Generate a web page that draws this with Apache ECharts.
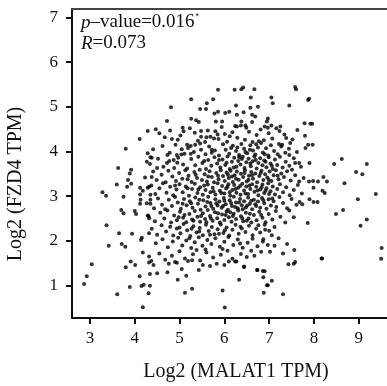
<!DOCTYPE html>
<html>
<head>
<meta charset="utf-8">
<script src="https://cdn.jsdelivr.net/npm/echarts@6/dist/echarts.min.js"></script>
<style>
html,body{margin:0;padding:0;background:#fff;}
#chart{width:387px;height:386px;}
</style>
</head>
<body>
<div id="chart"></div>
<script>
// ---- data (Log2 MALAT1 TPM, Log2 FZD4 TPM) ----
const xTicks = [3, 4, 5, 6, 7, 8, 9];
const yTicks = [1, 2, 3, 4, 5, 6, 7];
const xTitle = 'Log2 (MALAT1 TPM)';
const yTitle = 'Log2 (FZD4 TPM)';
const pValueText = '0.016';
const rText = '0.073';

const leftPoints = [
[4.29,4.46],[4.11,4.28],[3.80,4.06],[4.29,3.96],[4.35,3.87],[4.27,3.77],[3.63,3.63],[3.92,3.59],[3.89,3.51],[4.38,3.43],
[3.85,3.36],[3.60,3.26],[3.92,3.28],[3.83,3.21],[4.12,3.19],[4.29,3.19],[4.32,3.21],[3.28,3.09],[3.36,3.01],[3.75,2.99],
[4.12,3.04],[4.13,2.92],[4.12,2.83],[4.35,3.03],[4.35,2.92],[4.35,2.83],[3.70,2.69],[3.75,2.62],[4.00,2.67],[4.03,2.60],
[4.29,2.57],[4.32,2.51],[3.37,2.35],[3.65,2.17],[3.94,2.16],[4.32,2.17],[4.16,2.07],[4.14,2.02],[3.42,1.89],[3.71,1.93],
[3.79,1.87],[4.18,1.74],[4.32,1.65],[4.32,1.52],[4.37,1.55],[3.04,1.48],[3.91,1.54],[3.80,1.41],[4.01,1.46],[4.34,1.26],
[4.11,1.21],[2.93,1.21],[2.87,1.04],[3.89,0.97],[4.15,0.99],[4.20,1.02],[4.34,1.00],[4.31,0.83],[3.61,0.81],[4.18,0.52]
];

const lowerPoints = [
[5.12,0.84],[5.28,0.93],[5.96,0.89],[6.01,0.51],[6.33,1.13],[6.88,0.84],[7.31,0.81],[6.95,1.01],[7.06,1.11],[6.87,1.19],
[6.74,1.35],[6.90,1.32],[6.44,1.43],[6.27,1.54],[7.43,1.48],[7.55,1.49],[7.58,1.53],[8.17,1.61],[9.50,1.60],
[4.96,1.13],[5.15,1.22],[4.50,1.28],[4.73,1.30],[5.05,1.37],[4.42,1.46],[4.76,1.49],[4.94,1.51],[5.19,1.55],[5.28,1.57],
[5.43,1.35],[5.52,1.46],[5.68,1.44],[5.83,1.49],[6.00,1.46],[6.10,1.54],[6.24,1.54],[6.44,1.42],[6.73,1.35],[6.86,1.33],
[6.97,1.01],[6.67,1.67],[6.82,1.76],[7.02,1.76],[7.31,1.72],[7.56,1.80],[7.12,1.89],[7.40,1.93],[7.21,2.06],[6.97,1.91],
[6.87,2.04],[7.06,2.13],[6.91,2.25]
];

const rightPoints = [
[7.86,2.40],[7.90,2.93],[7.68,2.87],[7.74,2.82],[7.55,2.53],[7.36,2.41],[7.45,2.68],
[7.99,3.19],[8.19,3.12],[8.24,3.07],[7.99,2.87],[8.08,2.87],[8.98,2.93],[9.38,3.05],[8.49,2.60],[8.65,2.69],[9.04,2.34],
[9.18,2.48],[8.18,1.61],[9.51,1.84],
[7.96,4.62],[7.97,4.15],[8.45,3.72],[8.62,3.83],[9.18,3.72],[8.94,3.54],[9.08,3.49],[8.68,3.29],[8.21,3.43],[8.09,3.33],
[8.29,3.33],[7.98,3.34]
];

const upperPoints = [
[7.58,5.44],[7.60,5.39],[6.38,5.39],[6.42,5.43],[6.23,5.38],[6.67,5.39],[6.59,5.21],[7.05,5.21],[7.08,5.08],[7.89,5.18],
[7.87,5.15],[7.45,5.03],[6.26,5.03],[6.58,4.98],[6.75,5.00],[6.43,4.88],[6.28,4.82],[6.62,4.82],[6.69,4.78],[6.97,4.74],
[6.95,4.67],[6.38,4.67],[6.62,4.66],[6.28,4.56],[6.47,4.58],[7.79,4.63],[7.92,4.62],[7.25,4.56],[7.23,4.46],[6.90,4.56],
[6.97,4.53],[7.80,4.35],[7.38,4.30],[7.47,4.19],[7.29,4.15],[7.87,4.15],[7.45,3.92],[7.58,3.74],[7.67,3.74],[7.90,3.74],
[7.51,3.59],[7.67,3.33],[7.89,3.33],
[5.86,5.38],[5.26,5.17],[5.75,5.17],[5.61,5.08],[4.81,4.99],[5.46,4.95],[5.59,4.95],[5.86,4.89],[5.78,4.85],[6.02,4.86],
[6.11,4.89],[4.72,4.68],[5.26,4.73],[5.37,4.70],[5.43,4.66],[5.81,4.67],[5.95,4.67],[4.47,4.50],[4.79,4.47],[5.07,4.53],
[5.09,4.45],[5.48,4.46],[5.34,4.42],[5.80,4.45],[4.67,4.32],[4.96,4.26],[5.48,4.33],[5.60,4.32],[5.69,4.33],[6.01,4.39],
[5.87,4.28],[5.17,4.15],[5.35,4.15],[5.57,4.21],[5.05,4.05],[5.11,3.95],[5.48,4.04],[5.25,3.95],[5.72,4.04],[4.94,3.92],
[4.73,3.92],[4.38,3.86],[4.87,3.81],[4.72,3.74],[4.50,3.63]
];

const corePoints = [
[4.55,4.41],[4.83,4.28],[5.02,4.36],[5.23,4.52],[5.41,4.24],[5.63,4.47],[5.77,4.29],[5.94,4.55],[6.06,4.22],[6.18,4.43],
[6.29,4.31],[6.37,4.58],[6.46,4.26],[6.55,4.44],[6.63,4.21],[6.72,4.37],[6.81,4.49],[6.88,4.25],[6.99,4.41],[7.07,4.29],
[7.16,4.52],[7.34,4.38],[7.52,4.27],[7.63,4.48],[6.12,4.34],[6.49,4.53],[6.77,4.23],[5.85,4.38],[6.24,4.57],[7.05,4.58],
[4.41,4.05],[4.62,4.12],[4.78,3.97],[4.91,4.15],[5.04,3.93],[5.19,4.08],[5.32,3.99],[5.46,4.18],[5.58,3.94],[5.66,4.11],
[5.79,4.02],[5.88,3.91],[5.97,4.16],[6.03,4.04],[6.11,3.95],[6.19,4.13],[6.26,4.01],[6.33,3.92],[6.38,4.17],[6.44,4.06],
[6.51,3.96],[6.58,4.14],[6.64,4.02],[6.69,3.93],[6.75,4.09],[6.82,4.19],[6.86,3.98],[6.93,4.07],[6.98,3.91],[7.04,4.14],
[7.11,4.01],[7.19,3.94],[7.27,4.11],[7.36,3.97],[7.44,4.06],[7.62,3.99],[7.81,4.08],[6.15,4.08],[6.47,3.99],[6.71,4.16],
[5.72,3.97],[5.25,4.12],[6.57,4.04],[6.90,3.94],[7.22,4.17],[6.29,4.09],
[4.34,3.72],[4.52,3.84],[4.64,3.66],[4.77,3.79],[4.88,3.63],[4.97,3.86],[5.08,3.71],[5.17,3.62],[5.26,3.83],[5.35,3.69],
[5.42,3.88],[5.51,3.74],[5.59,3.61],[5.64,3.81],[5.71,3.68],[5.78,3.87],[5.84,3.73],[5.91,3.64],[5.96,3.82],[6.02,3.70],
[6.07,3.89],[6.12,3.61],[6.17,3.77],[6.22,3.86],[6.27,3.66],[6.31,3.79],[6.36,3.71],[6.41,3.88],[6.45,3.63],[6.49,3.76],
[6.54,3.84],[6.59,3.67],[6.63,3.78],[6.67,3.89],[6.72,3.62],[6.76,3.74],[6.80,3.85],[6.85,3.69],[6.89,3.80],[6.94,3.65],
[6.99,3.87],[7.03,3.73],[7.08,3.61],[7.13,3.82],[7.18,3.70],[7.24,3.88],[7.30,3.64],[7.37,3.77],[7.45,3.68],[7.55,3.85],
[7.71,3.66],[6.05,3.75],[6.39,3.83],[6.58,3.73],[6.92,3.77],[5.55,3.79],[6.21,3.64],[6.70,3.81],[7.06,3.68],[4.95,3.75],
[6.33,3.87],[5.88,3.81],
[4.23,3.42],[4.41,3.55],[4.49,3.36],[4.60,3.48],[4.69,3.31],[4.75,3.57],[4.84,3.44],[4.92,3.34],[4.99,3.52],[5.06,3.39],
[5.13,3.58],[5.20,3.46],[5.27,3.32],[5.33,3.54],[5.39,3.41],[5.45,3.59],[5.50,3.36],[5.56,3.49],[5.61,3.33],[5.67,3.56],
[5.72,3.43],[5.77,3.31],[5.82,3.52],[5.87,3.38],[5.92,3.58],[5.97,3.45],[6.01,3.34],[6.05,3.53],[6.10,3.41],[6.14,3.57],
[6.19,3.32],[6.23,3.47],[6.28,3.55],[6.32,3.37],[6.37,3.50],[6.42,3.43],[6.46,3.58],[6.50,3.33],[6.55,3.46],[6.60,3.54],
[6.64,3.39],[6.69,3.51],[6.73,3.31],[6.78,3.45],[6.83,3.57],[6.87,3.36],[6.91,3.49],[6.96,3.42],[7.01,3.55],[7.05,3.34],
[7.10,3.47],[7.15,3.58],[7.21,3.38],[7.27,3.51],[7.33,3.43],[7.40,3.56],[7.48,3.35],[7.58,3.47],[7.77,3.41],[5.36,3.48],
[5.86,3.46],[6.26,3.39],[6.62,3.47],[6.99,3.37],[6.08,3.48],[6.45,3.52],[5.64,3.44],[6.81,3.52],[7.19,3.46],[6.17,3.44],
[5.18,3.38],[6.54,3.37],
[4.18,3.12],[4.37,3.24],[4.46,3.05],[4.55,3.18],[4.63,3.29],[4.71,3.08],[4.79,3.21],[4.86,3.02],[4.93,3.15],[5.00,3.27],
[5.07,3.09],[5.14,3.22],[5.21,3.01],[5.28,3.16],[5.34,3.28],[5.40,3.07],[5.46,3.20],[5.52,3.03],[5.58,3.14],[5.63,3.26],
[5.69,3.09],[5.74,3.19],[5.80,3.04],[5.85,3.29],[5.90,3.12],[5.95,3.23],[6.00,3.06],[6.04,3.17],[6.09,3.27],[6.13,3.01],
[6.18,3.14],[6.22,3.25],[6.27,3.08],[6.31,3.19],[6.36,3.03],[6.40,3.28],[6.44,3.13],[6.49,3.22],[6.53,3.05],[6.58,3.16],
[6.62,3.27],[6.67,3.10],[6.71,3.21],[6.76,3.02],[6.80,3.15],[6.85,3.26],[6.89,3.07],[6.94,3.18],[6.98,3.29],[7.03,3.11],
[7.08,3.22],[7.13,3.04],[7.18,3.16],[7.24,3.27],[7.31,3.09],[7.38,3.20],[7.46,3.02],[7.55,3.14],[7.64,3.25],[7.73,3.06],
[5.55,3.24],[5.93,3.07],[6.25,3.16],[6.56,3.24],[6.92,3.12],[5.18,3.18],[6.07,3.21],[6.47,3.06],[6.74,3.13],[5.76,3.11],
[6.35,3.23],[5.42,3.15],[6.12,3.09],[6.83,3.20],[7.00,3.05],[4.90,3.24],
[4.27,2.84],[4.43,2.73],[4.52,2.95],[4.61,2.81],[4.68,2.71],[4.76,2.92],[4.83,2.78],[4.90,2.98],[4.96,2.86],[5.03,2.72],
[5.10,2.94],[5.16,2.80],[5.23,2.89],[5.29,2.74],[5.35,2.97],[5.41,2.83],[5.47,2.70],[5.53,2.91],[5.58,2.77],[5.64,2.99],
[5.69,2.85],[5.75,2.72],[5.80,2.93],[5.85,2.79],[5.89,2.88],[5.94,2.74],[5.99,2.96],[6.03,2.82],[6.08,2.70],[6.12,2.91],
[6.17,2.78],[6.21,2.99],[6.26,2.86],[6.30,2.73],[6.35,2.94],[6.39,2.80],[6.44,2.89],[6.48,2.75],[6.53,2.97],[6.57,2.83],
[6.62,2.71],[6.66,2.92],[6.71,2.78],[6.75,2.88],[6.80,2.74],[6.84,2.96],[6.89,2.84],[6.94,2.72],[6.99,2.93],[7.04,2.79],
[7.10,2.89],[7.16,2.76],[7.23,2.98],[7.31,2.85],[7.40,2.73],[7.50,2.94],[7.61,2.81],[5.26,2.84],[5.62,2.87],[5.97,2.78],
[6.33,2.86],[6.69,2.82],[7.07,2.95],[5.44,2.92],[5.82,2.84],[6.15,2.85],[6.51,2.79],[6.87,2.91],[5.07,2.83],[6.00,2.90],
[6.41,2.71],[5.71,2.78],[6.24,2.76],[6.60,2.90],
[4.31,2.55],[4.45,2.44],[4.57,2.63],[4.66,2.50],[4.73,2.68],[4.81,2.41],[4.88,2.57],[4.94,2.46],[5.01,2.65],[5.08,2.52],
[5.15,2.42],[5.22,2.60],[5.28,2.48],[5.34,2.67],[5.40,2.54],[5.46,2.43],[5.52,2.62],[5.57,2.49],[5.63,2.69],[5.68,2.56],
[5.74,2.45],[5.79,2.64],[5.84,2.51],[5.90,2.41],[5.95,2.59],[6.00,2.47],[6.05,2.66],[6.10,2.53],[6.16,2.43],[6.21,2.61],
[6.26,2.49],[6.31,2.68],[6.37,2.55],[6.42,2.44],[6.48,2.63],[6.54,2.50],[6.60,2.41],[6.66,2.58],[6.72,2.46],[6.78,2.65],
[6.85,2.52],[6.92,2.42],[6.99,2.60],[7.07,2.48],[7.15,2.67],[7.25,2.54],[5.11,2.58],[5.48,2.56],[5.86,2.62],[6.19,2.56],
[6.57,2.61],[5.31,2.45],[5.70,2.50],[6.03,2.58],[6.40,2.51],[6.82,2.58],[4.98,2.53],[5.60,2.42],[6.13,2.64],[6.50,2.45],
[4.38,2.27],[4.50,2.14],[4.60,2.35],[4.70,2.21],[4.79,2.32],[4.86,2.12],[4.94,2.28],[5.02,2.17],[5.09,2.38],[5.17,2.24],
[5.24,2.11],[5.31,2.33],[5.38,2.19],[5.45,2.29],[5.52,2.13],[5.59,2.36],[5.65,2.22],[5.72,2.31],[5.78,2.15],[5.85,2.26],
[5.92,2.37],[5.98,2.18],[6.05,2.30],[6.11,2.12],[6.18,2.25],[6.25,2.36],[6.32,2.16],[6.39,2.28],[6.47,2.20],[6.55,2.34],
[6.63,2.13],[6.71,2.27],[6.80,2.19],[6.90,2.36],[7.00,2.23],[7.12,2.31],[5.27,2.27],[5.68,2.14],[6.01,2.24],[6.36,2.32],
[6.76,2.35],[5.00,2.30],[5.44,2.21],[5.88,2.16],
[4.47,1.95],[4.62,2.04],[4.74,1.86],[4.85,1.99],[4.97,2.07],[5.06,1.90],[5.15,2.01],[5.26,1.84],[5.34,1.97],[5.43,2.08],
[5.51,1.89],[5.62,2.02],[5.71,1.93],[5.80,2.06],[5.90,1.87],[6.00,1.98],[6.09,2.09],[6.20,1.91],[6.30,2.03],[6.41,1.85],
[6.52,1.96],[6.63,2.05],[6.74,1.88],[6.86,1.99],[5.22,2.06],[5.58,1.81],[5.96,1.82],[6.35,1.94],
[4.55,1.72],[4.68,1.58],[4.83,1.67],[5.00,1.77],[5.12,1.61],[5.30,1.70],[5.46,1.56],[5.60,1.74],[5.75,1.63],[5.92,1.69],
[6.07,1.78],[6.18,1.60],[6.37,1.71],[6.50,1.64],[6.60,1.78],[5.38,1.80],[4.90,1.53]
];

const allPoints = [].concat(leftPoints, lowerPoints, rightPoints, upperPoints, corePoints);

const chart = echarts.init(document.getElementById('chart'), null, {renderer: 'canvas'});
const serif = '"Liberation Serif", "DejaVu Serif", serif';
const axisColor = '#111';

chart.setOption({
  animation: false,
  backgroundColor: '#fff',
  grid: {left: 72, top: 9, right: 0, bottom: 68, show: false},
  xAxis: [{
    type: 'value', min: 2.6, max: 9.63,
    axisLine: {show: true, lineStyle: {color: axisColor, width: 2}},
    axisTick: {show: true, length: 6, inside: false, customValues: xTicks, lineStyle: {color: axisColor, width: 2}},
    axisLabel: {customValues: xTicks, color: '#111', fontFamily: serif, fontSize: 17, margin: 12},
    splitLine: {show: false}
  }, {
    type: 'value', position: 'top', min: 2.6, max: 9.63,
    axisLine: {show: true, onZero: false, lineStyle: {color: '#444', width: 2}},
    axisTick: {show: false}, axisLabel: {show: false}, splitLine: {show: false}
  }],
  yAxis: {
    type: 'value', min: 0.277, max: 7.186,
    axisLine: {show: true, lineStyle: {color: axisColor, width: 2}},
    axisTick: {show: true, length: 6, inside: false, customValues: yTicks, lineStyle: {color: axisColor, width: 2}},
    axisLabel: {customValues: yTicks, color: '#111', fontFamily: serif, fontSize: 17, margin: 14},
    splitLine: {show: false}
  },
  series: [{
    type: 'scatter',
    xAxisIndex: 0,
    data: allPoints,
    symbol: 'circle',
    symbolSize: 4,
    itemStyle: {color: '#000'}
  }],
  graphic: [
    {
      type: 'text', left: 81, top: 12,
      style: {
        text: '{i|p}–value=' + pValueText + '{s|*}\n{i|R}=' + rText,
        font: '19px ' + serif, fill: '#111', lineHeight: 21,
        rich: {
          i: {fontStyle: 'italic', fontFamily: serif, fontSize: 19, lineHeight: 21},
          s: {fontSize: 9, verticalAlign: 'top', lineHeight: 21, padding: [0,0,8,1]}
        }
      }
    },
    {
      type: 'text', x: 236, y: 372,
      style: {text: xTitle, font: '20px ' + serif, fill: '#111', textAlign: 'center', textVerticalAlign: 'middle'}
    },
    {
      type: 'text', x: 16, y: 184, rotation: Math.PI / 2,
      style: {text: yTitle, font: '20px ' + serif, fill: '#111', textAlign: 'center', textVerticalAlign: 'middle'}
    }
  ]
});
</script>
</body>
</html>
